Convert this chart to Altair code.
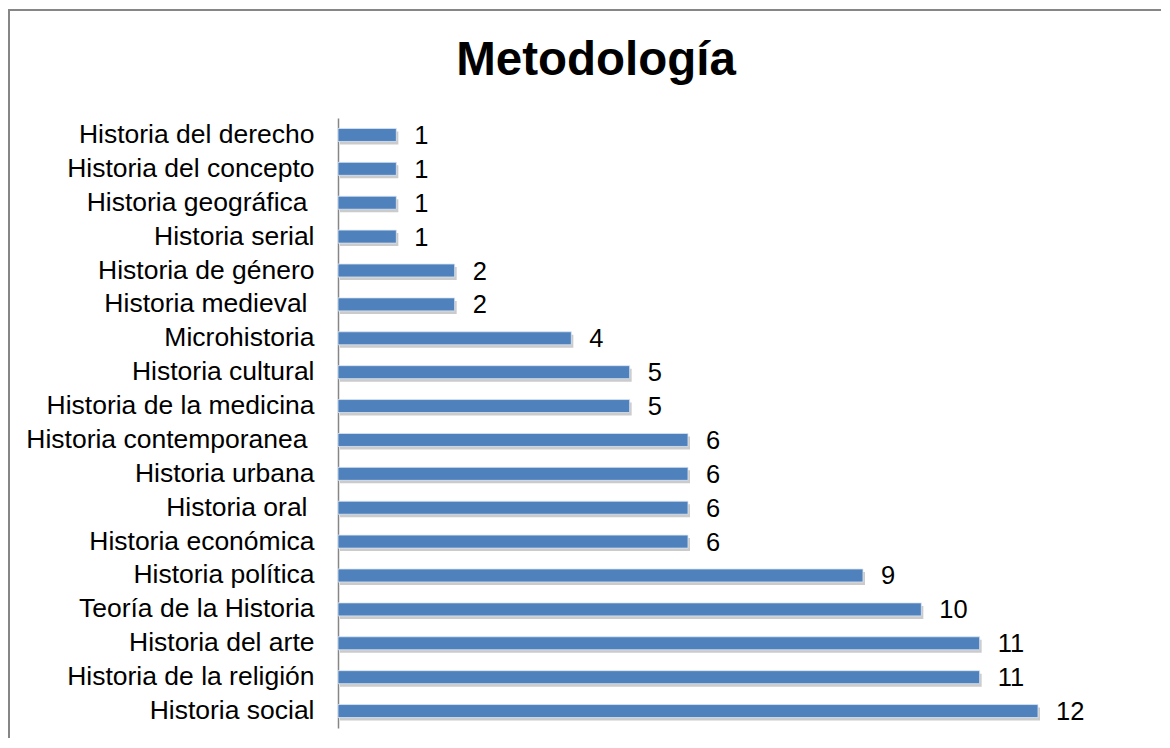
import altair as alt
import pandas as pd

categories = [
    "Historia del derecho",
    "Historia del concepto",
    "Historia geográfica ",
    "Historia serial",
    "Historia de género",
    "Historia medieval ",
    "Microhistoria",
    "Historia cultural",
    "Historia de la medicina",
    "Historia contemporanea ",
    "Historia urbana",
    "Historia oral ",
    "Historia económica",
    "Historia política",
    "Teoría de la Historia",
    "Historia del arte",
    "Historia de la religión",
    "Historia social",
]
values = [1, 1, 1, 1, 2, 2, 4, 5, 5, 6, 6, 6, 6, 9, 10, 11, 11, 12]
title_text = "Metodología"

df = pd.DataFrame({"cat": categories, "val": values})

FONT = "Liberation Sans"
W = 700 * 13 / 12
H = 610

y_enc = alt.Y(
    "cat:N",
    sort=None,
    scale=alt.Scale(paddingInner=0, paddingOuter=0),
    axis=alt.Axis(
        title=None,
        ticks=False,
        labelFontSize=26.5,
        labelFont=FONT,
        labelColor="black",
        labelPadding={
            "condition": {"test": "slice(datum.value, -1) == ' '", "value": 31},
            "value": 24,
        },
        labelLimit=0,
        domainColor="#868686",
        domainWidth=1.5,
    ),
)
x_enc = alt.X("val:Q", scale=alt.Scale(domain=[0, 13], nice=False), axis=None)

base = alt.Chart(df).encode(y=y_enc, x=x_enc)

shadow = base.mark_bar(size=13, yOffset=3, xOffset=2, color="#8c8c8c", opacity=0.45)
bars = base.mark_bar(size=13, color="#4F81BD", stroke="#dce6f2", strokeWidth=0.8)
labels = base.mark_text(
    align="left", baseline="middle", dx=18, dy=1, fontSize=25.5, font=FONT, color="black"
).encode(text="val:Q")

one = alt.Data(values=[{}])
border = alt.Chart(one).mark_rect(fillOpacity=0, stroke="#868686", strokeWidth=2).encode(
    x=alt.value(-329), x2=alt.value(900), y=alt.value(-108), y2=alt.value(700)
)
title = alt.Chart(one).mark_text(
    text=title_text, fontSize=47.5, fontWeight="bold", font=FONT, color="black",
    align="center", baseline="alphabetic",
).encode(x=alt.value(596 - 338), y=alt.value(75 - 118))

chart = (
    alt.layer(border, shadow, bars, labels, title)
    .properties(
        width=W,
        height=H,
        padding={"left": 330, "top": 110, "right": 65, "bottom": 10},
        autosize=alt.AutoSizeParams(type="none"),
    )
    .configure_view(stroke=None)
)

chart.save("out.html", embed_options={"renderer": "svg", "actions": False})
